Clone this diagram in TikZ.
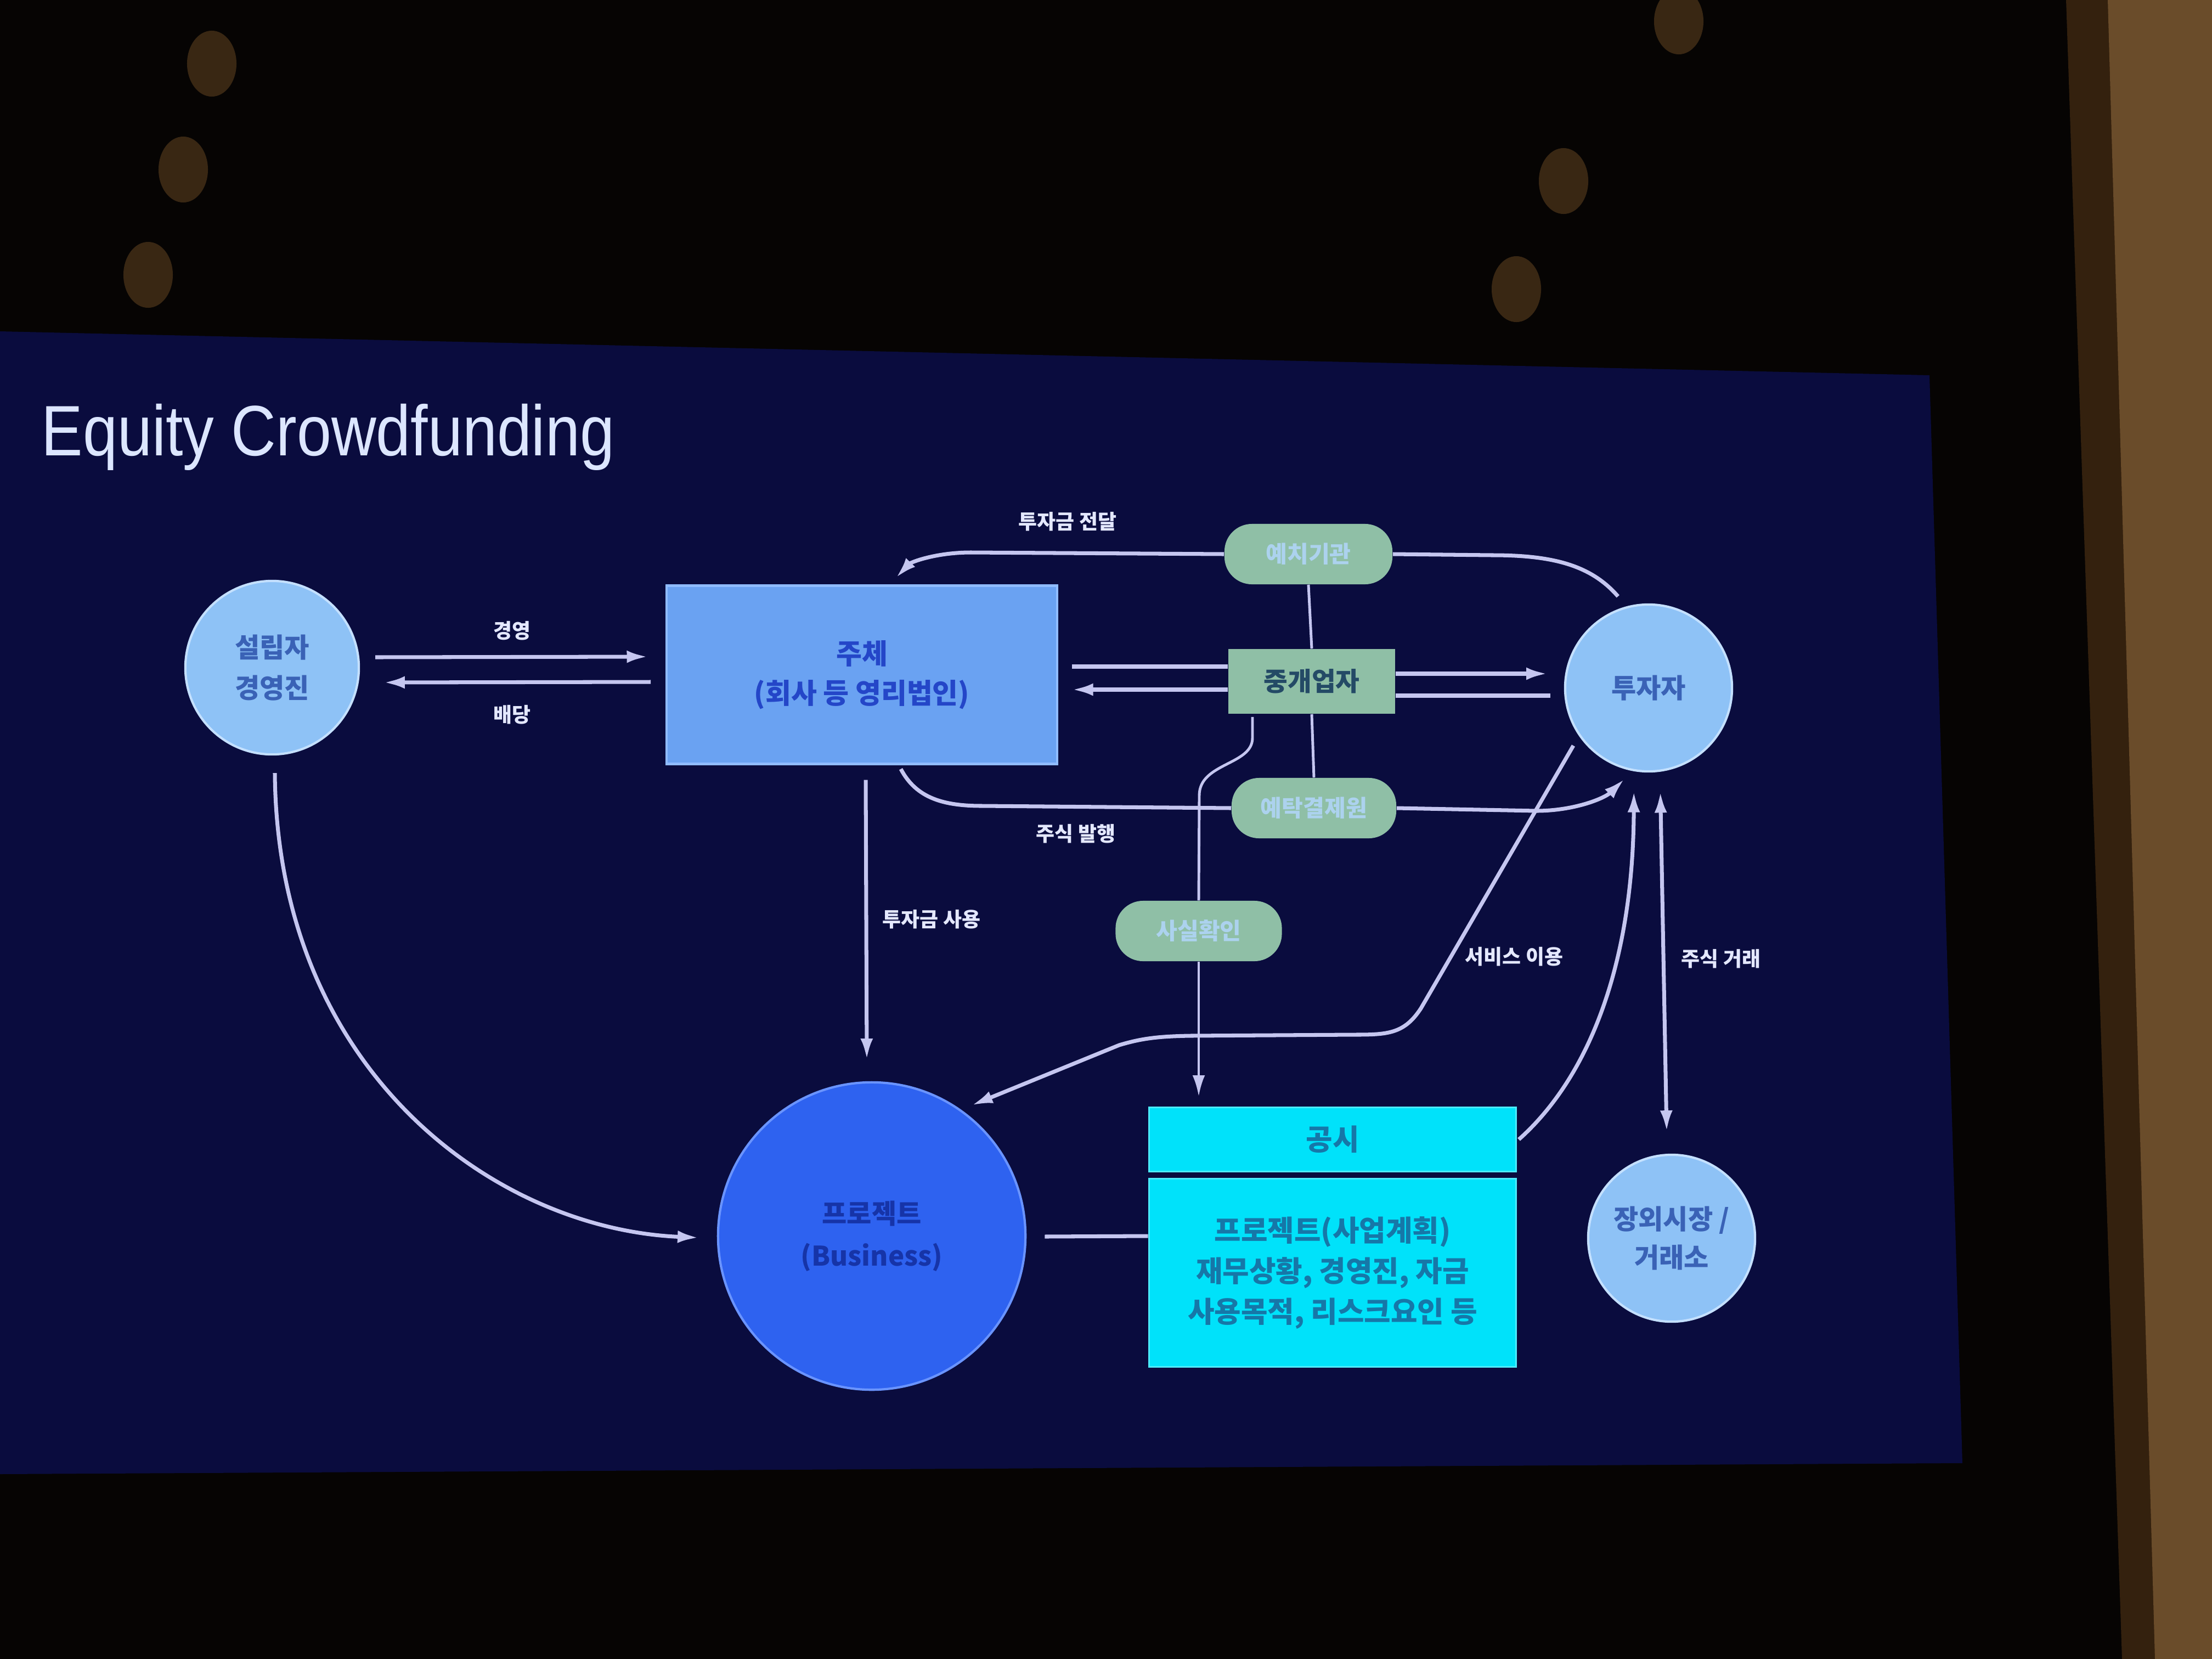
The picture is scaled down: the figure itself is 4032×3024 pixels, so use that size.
\documentclass[tikz,border=0pt]{standalone}
\usepackage{fontspec}
\setmainfont{Liberation Sans}
\newfontfamily\kr{Noto Sans CJK KR}
\usetikzlibrary{arrows.meta,calc}
\definecolor{outbg}{HTML}{060403}
\definecolor{slidebg}{HTML}{0A0C3E}
\definecolor{brownA}{HTML}{34210E}
\definecolor{brownB}{HTML}{6A4C2A}
\definecolor{bokeh}{HTML}{B07A3A}
\definecolor{titlec}{HTML}{DCE6FF}
\definecolor{cfill}{HTML}{8EC2F6}
\definecolor{cedge}{HTML}{C4E0FF}
\definecolor{ctext}{HTML}{3A62B6}
\definecolor{corpfill}{HTML}{6AA2F2}
\definecolor{corpedge}{HTML}{90BCFF}
\definecolor{corptext}{HTML}{2446C8}
\definecolor{projfill}{HTML}{2E62F0}
\definecolor{projedge}{HTML}{6A94FF}
\definecolor{projtext}{HTML}{1634A8}
\definecolor{discfill}{HTML}{00E2FA}
\definecolor{disctext}{HTML}{1677A8}
\definecolor{pillfill}{HTML}{8FBFA6}
\definecolor{pilltext}{HTML}{ACD2EE}
\definecolor{brktext}{HTML}{244A66}
\definecolor{linec}{HTML}{C5C6F0}
\definecolor{lblc}{HTML}{E4E8FF}
\begin{document}
\begin{tikzpicture}[x=0.01cm,y=-0.01cm,
  crc/.style={circle,fill=cfill,draw=cedge,line width=1.2pt,text=ctext,align=center,inner sep=0pt,
    font=\kr\bfseries\fontsize{14}{21}\selectfont},
  corpbox/.style={rectangle,fill=corpfill,draw=corpedge,line width=1.2pt,text=corptext,align=center,
    minimum width=7.11cm,minimum height=3.25cm,inner sep=0pt,font=\kr\bfseries\fontsize{14.5}{20.5}\selectfont},
  projc/.style={circle,fill=projfill,draw=projedge,line width=1.2pt,text=projtext,align=center,inner sep=0pt,
    font=\kr\bfseries\fontsize{14}{22}\selectfont},
  pill/.style={rectangle,rounded corners=0.5cm,fill=pillfill,text=pilltext,minimum height=1.1cm,inner sep=0pt,
    font=\kr\bfseries\fontsize{12}{14}\selectfont},
  brkbox/.style={rectangle,fill=pillfill,text=brktext,minimum width=3.04cm,minimum height=1.18cm,inner sep=0pt,
    font=\kr\bfseries\fontsize{13.5}{16}\selectfont},
  discbox/.style={rectangle,fill=discfill,draw=discfill!70!white,line width=1pt,text=disctext,align=center,
    minimum width=6.69cm,inner sep=0pt,font=\kr\bfseries\fontsize{15}{21}\selectfont},
  lbl/.style={text=lblc,inner sep=0pt,font=\kr\bfseries\fontsize{10.5}{12}\selectfont},
  conn/.style={draw=linec,line width=2pt},
  thinconn/.style={draw=linec,line width=1.4pt},
  arr/.style={-{Latex[length=11pt,width=6.5pt]}},
  darr/.style={{Latex[length=11pt,width=6.5pt]}-{Latex[length=11pt,width=6.5pt]}},
  glow/.style={fill=bokeh,opacity=0.3}
]
\useasboundingbox (0,0) rectangle (4032,3024);
% photo surroundings
\fill[outbg] (0,0) rectangle (4032,3024);
\fill[brownA] (3766,0) -- (4032,0) -- (4032,3024) -- (3868,3024) -- cycle;
\fill[brownB] (3842,0) -- (4032,0) -- (4032,3024) -- (3928,3024) -- cycle;
% background lights
\foreach \bx/\by in {386/116, 334/309, 270/501, 2764/527, 2738/746, 3060/39, 2850/330}
  \fill[glow] (\bx,\by) ellipse (0.45cm and 0.6cm);
% slide
\fill[slidebg] (0,604) -- (3517,684) -- (3577,2667) -- (0,2687) -- cycle;
% title
\node[anchor=base west,inner sep=0pt,text=titlec,font=\fontsize{37}{40}\selectfont] (title) at (75,830)
  {\scalebox{0.87}[1]{Equity Crowdfunding}};
% nodes
\node[crc,minimum size=3.16cm] (fnd) at (496,1217) {설립자\\경영진};
\node[corpbox] (corp) at (1571,1230) {주체\\(회사 등 영리법인)};
\node[crc,minimum size=3.04cm] (inv) at (3005,1254) {투자자};
\node[crc,minimum size=3.04cm,font=\kr\bfseries\fontsize{14}{20}\selectfont] (otc) at (3047,2257) {장외시장 /\\거래소};
\node[projc,minimum size=5.6cm] (proj) at (1589,2253) {프로젝트\\(Business)};
\node[brkbox] (brk) at (2391,1242) {중개업자};
\node[pill,minimum width=3.06cm] (esc) at (2385,1010) {예치기관};
\node[pill,minimum width=3.0cm] (dep) at (2395,1473) {예탁결제원};
\node[pill,minimum width=3.03cm] (fact) at (2185,1697) {사실확인};
\node[discbox,minimum height=1.17cm] (disch) at (2429,2077) {공시};
\node[discbox,minimum height=3.43cm] (discb) at (2429,2320) {프로젝트(사업계획)\\재무상황, 경영진, 자금\\사용목적, 리스크요인 등};
% labels
\node[lbl] (lgy) at (933,1150) {경영};
\node[lbl] (lbd) at (933,1303) {배당};
\node[lbl] (ljd) at (1946,951) {투자금 전달};
\node[lbl] (lbh) at (1961,1520) {주식 발행};
\node[lbl] (lsy) at (1698,1676) {투자금 사용};
\node[lbl] (lsv) at (2760,1744) {서비스 이용};
\node[lbl] (lgr) at (3137,1748) {주식 거래};
% connectors
\draw[conn,arr] ($(fnd.east)+(28,-19)$) -- ($(corp.west)+(-32,-33)$);
\draw[conn,arr] ($(corp.west)+(-27,13)$) -- ($(fnd.east)+(43,27)$);
\draw[conn] ($(corp.east)+(25,-15)$) -- ($(brk.west)+(0,-27)$);
\draw[conn,arr] ($(brk.west)+(0,15)$) -- ($(corp.east)+(25,27)$);
\draw[conn,arr] ($(brk.east)+(0,-14)$) -- ($(inv.west)+(-30,-26)$);
\draw[conn] ($(inv.west)+(-25,14)$) -- ($(brk.east)+(0,26)$);
\draw[thinconn] (esc.south) -- (brk.north);
\draw[thinconn] (brk.south) -- (dep.north);
% investment transfer
\draw[conn] ($(inv.110)+(-3,-22)$) .. controls (2900,1030) and (2830,1012) .. (2720,1012) -- (esc.east);
\draw[conn,arr] (esc.west) -- (1770,1007) .. controls (1705,1007) and (1660,1025) .. ($(corp.north)+(62,-12)$);
% share issue
\draw[conn] ($(corp.south)+(71,7)$) .. controls (1670,1455) and (1720,1469) .. (1790,1469) -- (dep.west);
\draw[conn,arr] (dep.east) -- (2800,1478) .. controls (2870,1478) and (2925,1455) .. ($(inv.-105)+(-4,17)$);
% fact check
\draw[thinconn] ($(brk.south)+(-108,5)$) -- (2283,1345) .. controls (2283,1395) and (2186,1390) .. (2186,1450) -- (fact.north);
\draw[thinconn,arr] (fact.south) -- ($(fact.south |- disch.north)+(0,-18)$);
% fund use
\draw[conn,arr] ($(corp.south)+(7,27)$) -- ($(proj.north)+(-9,-39)$);
% founder to project
\draw[conn,arr] ($(fnd.south)+(5,32)$) .. controls (505,1950) and (900,2240) .. ($(proj.west)+(-33,3)$);
% service use
\draw[conn,arr] ($(inv.-140)+(-19,6)$) -- (2590,1838) .. controls (2560,1884) and (2530,1886) .. (2470,1886)
  -- (2170,1888) .. controls (2110,1889) and (2080,1893) .. (2040,1905) -- ($(proj.55)+(20,-7)$);
% disclosure to investor
\draw[conn,arr] ($(disch.east)+(3,0)$) .. controls (2900,1960) and (2977,1750) .. ($(inv.-100)+(0,36)$);
% share trading
\draw[conn,darr] ($(inv.-82)+(0,36)$) -- ($(otc.north)+(-9,-40)$);
% project - disclosure
\draw[conn] ($(proj.east)+(33,1)$) -- (proj.east -| discb.west);
\end{tikzpicture}
\end{document}
